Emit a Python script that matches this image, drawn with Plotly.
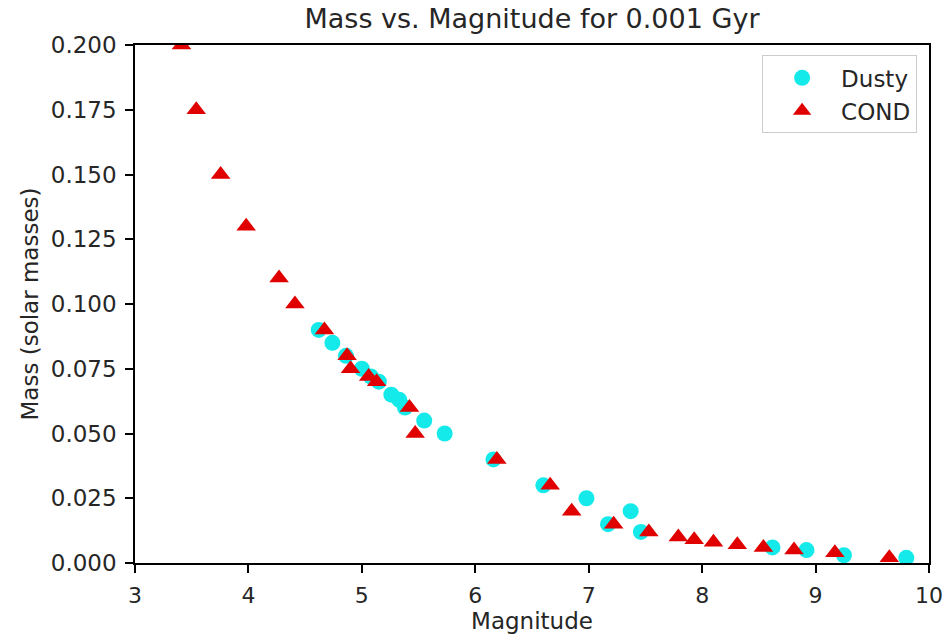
import plotly.graph_objects as go

# Dusty model points
dusty_mag = [4.62, 4.74, 4.86, 5.00, 5.08, 5.15, 5.26, 5.33, 5.38, 5.55, 5.73,
             6.16, 6.60, 6.98, 7.37, 7.17, 7.46, 8.62, 8.92, 9.25, 9.80]
dusty_mass = [0.090, 0.085, 0.080, 0.075, 0.072, 0.070, 0.065, 0.063, 0.060, 0.055, 0.050,
              0.040, 0.030, 0.025, 0.020, 0.015, 0.012, 0.006, 0.005, 0.003, 0.002]

# COND model points
cond_mag = [3.41, 3.54, 3.755, 3.98, 4.27, 4.41, 4.67, 4.87, 4.90, 5.06, 5.13, 5.42, 5.47,
            6.19, 6.66, 6.85, 7.22, 7.53, 7.79, 7.93, 8.10, 8.31, 8.54, 8.81, 9.17, 9.65]
cond_mass = [0.200, 0.175, 0.150, 0.130, 0.110, 0.100, 0.090, 0.080, 0.075, 0.072, 0.070,
             0.060, 0.050, 0.040, 0.030, 0.020, 0.015, 0.012, 0.010, 0.009, 0.008, 0.007,
             0.006, 0.005, 0.004, 0.002]

x_ticks = [3, 4, 5, 6, 7, 8, 9, 10]
y_ticks = [0.0, 0.025, 0.05, 0.075, 0.1, 0.125, 0.15, 0.175, 0.2]

font = "DejaVu Sans"
txt = "#262626"

fig = go.Figure()
fig.add_trace(go.Scatter(x=dusty_mag, y=dusty_mass, mode="markers", name="Dusty",
                         marker=dict(symbol="circle", size=16, color="#14eaea")))
fig.add_trace(go.Scatter(x=cond_mag, y=cond_mass, mode="markers", name="COND",
                         marker=dict(symbol="triangle-up", size=17, color="#e00000",
                                     line=dict(width=0))))

axis_common = dict(showgrid=False, zeroline=False, showline=True, linecolor="black",
                   linewidth=1.5, mirror=True, ticks="outside", ticklen=8, tickwidth=1.5,
                   tickcolor="black", automargin=False, ticklabeloverflow="allow",
                   ticklabelstandoff=4)

fig.update_layout(
    width=945, height=640,
    margin=dict(l=135, r=16, t=45, b=77),
    paper_bgcolor="white", plot_bgcolor="white",
    title=dict(text="Mass vs. Magnitude for 0.001 Gyr", x=(135 + 929) / 2 / 945,
               xanchor="center", y=1 - 19 / 640, yanchor="middle",
               font=dict(family=font, size=27, color=txt)),
    xaxis=dict(range=[3, 10], tickvals=x_ticks, ticktext=[str(v) for v in x_ticks],
               tickfont=dict(family=font, size=22, color=txt),
               title=dict(text="Magnitude", font=dict(family=font, size=23, color=txt),
                          standoff=4),
               **axis_common),
    yaxis=dict(range=[0, 0.2], tickvals=y_ticks, ticktext=[f"{v:.3f}" for v in y_ticks],
               tickfont=dict(family=font, size=23, color=txt),
               title=dict(text="Mass (solar masses)", font=dict(family=font, size=23, color=txt),
                          standoff=6),
               **axis_common),
    legend=dict(x=0.985, y=0.98, xanchor="right", yanchor="top",
                bgcolor="rgba(255,255,255,0.8)", bordercolor="#cccccc", borderwidth=1,
                font=dict(family=font, size=23, color=txt), itemwidth=68,
                tracegroupgap=0),
    showlegend=True,
)

fig.write_html("out.html")
